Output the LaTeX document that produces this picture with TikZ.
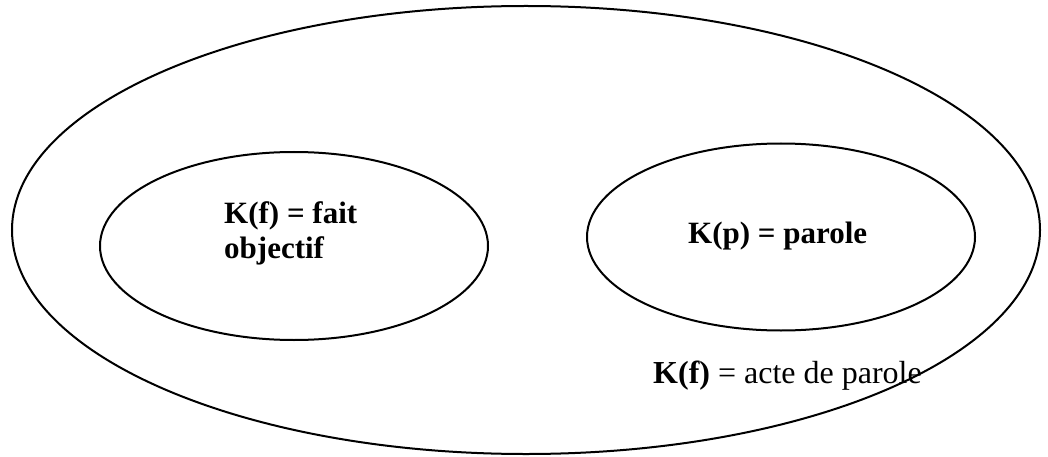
\documentclass[tikz,border=0pt]{standalone}
\usepackage{fontspec}
\setmainfont{Liberation Serif}
\usetikzlibrary{shapes.geometric}
\begin{document}
\begin{tikzpicture}[x=1pt,y=1pt,
  ring/.style={draw=black,line width=2pt,ellipse,inner sep=0pt},
  lbl/.style={inner sep=0pt,font=\fontsize{31}{35}\selectfont,anchor=base west,align=left}]
\useasboundingbox (0,0) rectangle (1048,-457);
\node[ring,minimum width=1028pt,minimum height=448pt] (outer) at (526,-230) {};
\node[ring,minimum width=388pt,minimum height=188pt] (left) at (294,-246) {};
\node[ring,minimum width=388pt,minimum height=187pt] (right) at (781,-237) {};
\node[lbl] (lt) at (224,-258) {\textbf{K(f) = fait}\\\textbf{objectif}};
\node[lbl] (rt) at (688,-243) {\textbf{K(p) = parole}};
\node[lbl,font=\fontsize{32}{35}\selectfont] (bt) at (653,-383) {\textbf{K(f)} = acte de parole};
\end{tikzpicture}
\end{document}
